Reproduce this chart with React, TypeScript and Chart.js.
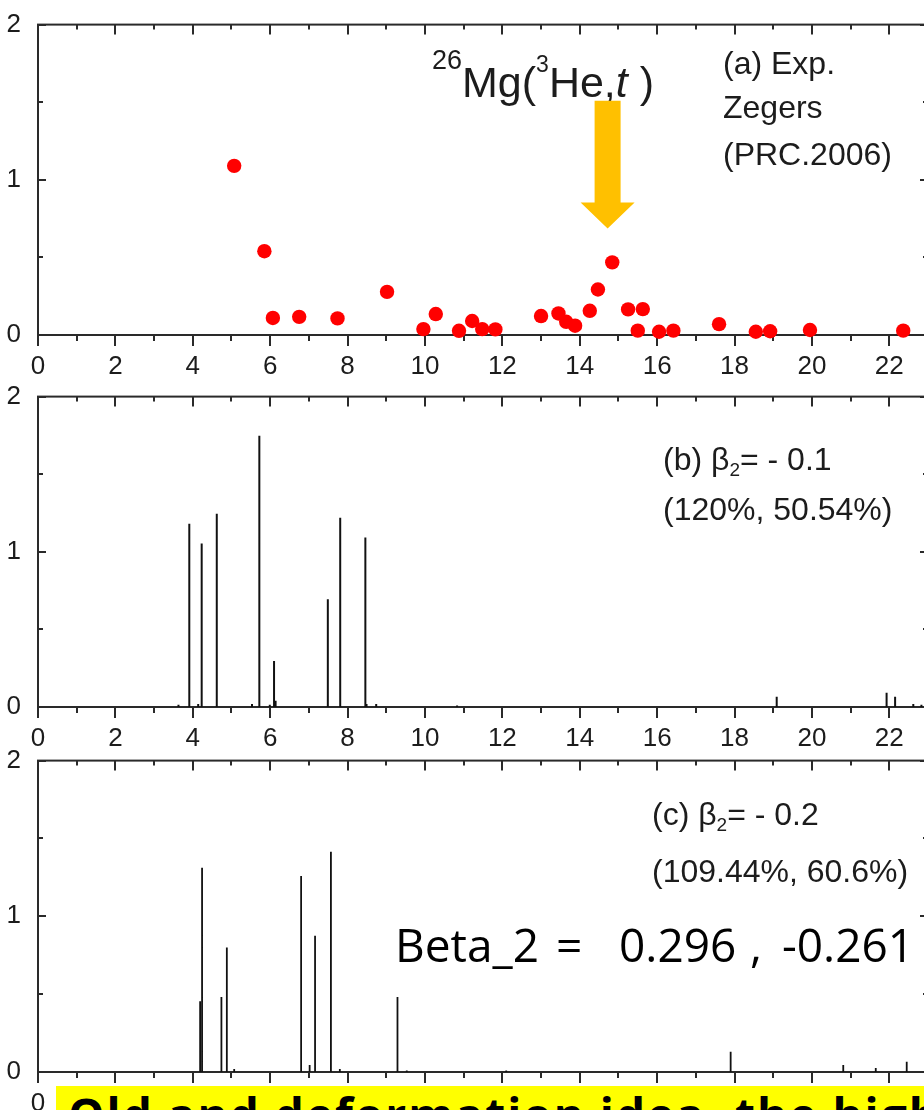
import React, { useEffect, useRef } from 'react';
import { Chart, registerables } from 'chart.js';

Chart.register(...registerables);

// Axis definitions: excitation energy (MeV) and GT strength
const energyTickLabels = [0, 2, 4, 6, 8, 10, 12, 14, 16, 18, 20, 22];
const strengthTickLabels = [0, 1, 2];
const ENERGY_MIN = 0;
const ENERGY_MAX = 23;
const STRENGTH_MIN = 0;
const STRENGTH_MAX = 2;

// (a) measured 26Mg(3He,t) strength, Zegers PRC 2006
const expEnergy = [5.07, 5.85, 6.07, 6.75, 7.74, 9.02, 9.96, 10.28, 10.88, 11.22, 11.48, 11.82, 13.0, 13.45, 13.65, 13.88, 14.26, 14.47, 14.84, 15.25, 15.5, 15.63, 16.05, 16.42, 17.6, 18.55, 18.92, 19.95, 22.36];
const expStrength = [1.09, 0.54, 0.11, 0.117, 0.107, 0.278, 0.038, 0.135, 0.027, 0.09, 0.038, 0.036, 0.122, 0.139, 0.085, 0.06, 0.156, 0.293, 0.468, 0.165, 0.028, 0.167, 0.021, 0.028, 0.07, 0.021, 0.024, 0.032, 0.028];

// (b) calculation with beta2 = -0.1
const calcB1Energy = [3.63, 3.91, 4.14, 4.23, 4.62, 5.53, 5.72, 5.99, 6.1, 6.14, 7.49, 7.81, 8.46, 8.49, 8.74, 10.83, 19.09, 21.93, 22.15, 22.62, 22.83];
const calcB1Strength = [0.015, 1.18, 0.02, 1.053, 1.245, 0.02, 1.748, 0.015, 0.297, 0.04, 0.694, 1.22, 1.092, 0.02, 0.02, 0.01, 0.066, 0.092, 0.066, 0.02, 0.015];

// (c) calculation with beta2 = -0.2
const calcB2Energy = [4.19, 4.24, 4.74, 4.88, 5.07, 6.8, 7.02, 7.16, 7.57, 7.8, 9.29, 9.53, 12.1, 17.9, 20.81, 21.65, 22.45];
const calcB2Strength = [0.454, 1.312, 0.481, 0.8, 0.02, 1.259, 0.045, 0.875, 1.414, 0.02, 0.481, 0.01, 0.01, 0.13, 0.045, 0.025, 0.066];

const AXIS_FONT = '"Liberation Sans", Arial, sans-serif';
const SLIDE_FONT = '"Open Sans", "Noto Sans", sans-serif';
const INK = '#1c1c1c';
const CANVAS_W = 940;

type Pt = { x: number; y: number | null };

function stickPoints(energy: number[], strength: number[]): Pt[] {
  const pts: Pt[] = [];
  energy.forEach((e, i) => {
    pts.push({ x: e, y: 0 }, { x: e, y: strength[i] }, { x: e, y: null });
  });
  return pts;
}

// Box frame with Origin-style ticks: bottom ticks outward, others inward
const frameTicks = {
  id: 'frameTicks',
  beforeDatasetsDraw(chart: any) {
    const { ctx, chartArea: a, scales } = chart;
    const xs = scales.x;
    const ys = scales.y;
    ctx.save();
    ctx.strokeStyle = '#2a2a2a';
    ctx.lineWidth = 2;
    ctx.strokeRect(a.left, a.top, a.right - a.left, a.bottom - a.top);
    ctx.beginPath();
    for (let v = ENERGY_MIN; v <= ENERGY_MAX; v += 1) {
      const px = Math.round(xs.getPixelForValue(v));
      const major = v % 2 === 0;
      ctx.moveTo(px, a.bottom);
      ctx.lineTo(px, a.bottom + (major ? 11 : 6));
      ctx.moveTo(px, a.top);
      ctx.lineTo(px, a.top + (major ? 10 : 5));
    }
    for (let v = STRENGTH_MIN; v <= STRENGTH_MAX; v += 0.5) {
      const py = Math.round(ys.getPixelForValue(v));
      const len = Number.isInteger(v) ? 8 : 5;
      ctx.moveTo(a.left, py);
      ctx.lineTo(a.left + len, py);
      ctx.moveTo(a.right, py);
      ctx.lineTo(a.right - len, py);
    }
    ctx.stroke();
    ctx.restore();
  },
};

function textRun(ctx: CanvasRenderingContext2D, parts: [string, string, number][], x: number) {
  // parts: [text, font, baseline]
  let cx = x;
  for (const [t, f, b] of parts) {
    ctx.font = f;
    ctx.fillText(t, cx, b);
    cx += ctx.measureText(t).width;
  }
}

type PanelProps = {
  top: number;
  height: number;
  plotBottom: number;
  datasets: any[];
  notes: (ctx: CanvasRenderingContext2D, chart: any) => void;
};

function Panel({ top, height, plotBottom, datasets, notes }: PanelProps) {
  const ref = useRef<HTMLCanvasElement | null>(null);
  useEffect(() => {
    if (!ref.current) return;
    const chart = new Chart(ref.current, {
      type: 'line',
      data: { datasets },
      options: {
        responsive: false,
        animation: false,
        devicePixelRatio: 1,
        layout: { padding: { top: 23, right: 12, left: 0, bottom: 0 } },
        plugins: { legend: { display: false }, tooltip: { enabled: false } },
        scales: {
          x: {
            type: 'linear',
            min: ENERGY_MIN,
            max: ENERGY_MAX,
            grid: { display: false },
            border: { display: false },
            afterBuildTicks: (s: any) => {
              s.ticks = energyTickLabels.map((v) => ({ value: v }));
            },
            afterFit: (s: any) => {
              s.height = height - plotBottom;
            },
            ticks: {
              autoSkip: false,
              maxRotation: 0,
              padding: 8,
              color: INK,
              font: { family: AXIS_FONT, size: 26 },
            },
          },
          y: {
            type: 'linear',
            min: STRENGTH_MIN,
            max: STRENGTH_MAX,
            grid: { display: false },
            border: { display: false },
            afterBuildTicks: (s: any) => {
              s.ticks = strengthTickLabels.map((v) => ({ value: v }));
            },
            afterFit: (s: any) => {
              s.width = 38;
            },
            ticks: {
              padding: 9,
              color: INK,
              font: { family: AXIS_FONT, size: 26 },
            },
          },
        },
      },
      plugins: [
        frameTicks,
        {
          id: 'panelNotes',
          afterDraw(c: any) {
            const ctx = c.ctx as CanvasRenderingContext2D;
            ctx.save();
            ctx.fillStyle = INK;
            ctx.textBaseline = 'alphabetic';
            ctx.textAlign = 'left';
            notes(ctx, c);
            ctx.restore();
          },
        },
      ],
    } as any);
    return () => chart.destroy();
  }, []);
  return (
    <canvas
      ref={ref}
      width={CANVAS_W}
      height={height}
      style={{ position: 'absolute', left: 0, top, display: 'block' }}
    />
  );
}

const big = `43px ${AXIS_FONT}`;
const label = `32px ${AXIS_FONT}`;

function notesA(ctx: CanvasRenderingContext2D, chart: any) {
  // reaction label
  textRun(ctx, [
    ['26', `27px ${AXIS_FONT}`, 69],
    ['Mg(', big, 97],
    ['3', `23px ${AXIS_FONT}`, 72],
    ['He,', big, 97],
    ['t', `italic 43px ${AXIS_FONT}`, 97],
    [' )', big, 97],
  ], 432);
  ctx.font = label;
  ctx.fillText('(a) Exp.', 723, 74);
  ctx.fillText('Zegers', 723, 118);
  ctx.fillText('(PRC.2006)', 723, 165);

  // arrow pointing at the main GT peak
  const xs = chart.scales.x;
  const ys = chart.scales.y;
  const cx = xs.getPixelForValue(14.72);
  const yTop = ys.getPixelForValue(1.51);
  const yBase = ys.getPixelForValue(0.853);
  const yTip = ys.getPixelForValue(0.686);
  ctx.fillStyle = '#FFC000';
  ctx.beginPath();
  ctx.moveTo(cx - 13, yTop);
  ctx.lineTo(cx + 13, yTop);
  ctx.lineTo(cx + 13, yBase);
  ctx.lineTo(cx + 27, yBase);
  ctx.lineTo(cx, yTip);
  ctx.lineTo(cx - 27, yBase);
  ctx.lineTo(cx - 13, yBase);
  ctx.closePath();
  ctx.fill();
}

function betaNotes(tag: string, beta: string, sums: string, x: number, b1: number, b2: number) {
  return (ctx: CanvasRenderingContext2D) => {
    textRun(ctx, [
      [`(${tag}) \u03B2`, label, b1],
      ['2', `19px ${AXIS_FONT}`, b1 + 6],
      [`= - ${beta}`, label, b1],
    ], x);
    ctx.font = label;
    ctx.fillText(sums, x, b2);
  };
}

const TOP_A = 0;
const TOP_B = 372;
const TOP_C = 736;

// pieces of the deformation note, with their left edges
const betaNoteParts: [string, number][] = [
  ['Beta_2', 395],
  ['=', 556],
  ['0.296', 619],
  [',', 750],
  ['-0.261', 782],
];

export default function App() {
  const expSet = [
    {
      type: 'scatter',
      data: expEnergy.map((e, i) => ({ x: e, y: expStrength[i] })),
      showLine: false,
      pointRadius: 7.2,
      pointBorderWidth: 0,
      pointBackgroundColor: '#FF0000',
      pointBorderColor: '#FF0000',
      clip: false,
    },
  ];
  const b1Set = [
    {
      data: stickPoints(calcB1Energy, calcB1Strength),
      borderColor: '#111',
      borderWidth: 2,
      pointRadius: 0,
      spanGaps: false,
      tension: 0,
    },
  ];
  const b2Set = [
    {
      data: stickPoints(calcB2Energy, calcB2Strength),
      borderColor: '#111',
      borderWidth: 1.8,
      pointRadius: 0,
      spanGaps: false,
      tension: 0,
    },
  ];

  return (
    <div
      style={{
        position: 'absolute',
        left: 0,
        top: 0,
        width: 924,
        height: 1110,
        overflow: 'hidden',
        background: '#fff',
      }}
    >
      <Panel top={TOP_A} height={380} plotBottom={335} datasets={expSet} notes={notesA} />
      <Panel
        top={TOP_B}
        height={380}
        plotBottom={335}
        datasets={b1Set}
        notes={betaNotes('b', '0.1', '(120%, 50.54%)', 663, 470 - TOP_B, 520 - TOP_B)}
      />
      <Panel
        top={TOP_C}
        height={374}
        plotBottom={336}
        datasets={b2Set}
        notes={betaNotes('c', '0.2', '(109.44%, 60.6%)', 652, 825 - TOP_C, 882 - TOP_C)}
      />
      {betaNoteParts.map(([t, x]) => (
        <div
          key={t}
          style={{
            position: 'absolute',
            left: x,
            top: 921,
            fontFamily: SLIDE_FONT,
            fontSize: 46,
            lineHeight: 1,
            whiteSpace: 'pre',
            color: '#000',
          }}
        >
          {t}
        </div>
      ))}
      <div
        style={{
          position: 'absolute',
          left: 56,
          top: 1086,
          width: 868,
          height: 40,
          background: '#FFFF00',
          overflow: 'hidden',
        }}
      >
        <div
          style={{
            paddingLeft: 12,
            paddingTop: 5,
            fontFamily: SLIDE_FONT,
            fontWeight: 700,
            fontSize: 46,
            lineHeight: 1,
            letterSpacing: 2,
            whiteSpace: 'pre',
            color: '#000',
          }}
        >
          {'Old and deformation idea, the high'}
        </div>
      </div>
    </div>
  );
}
